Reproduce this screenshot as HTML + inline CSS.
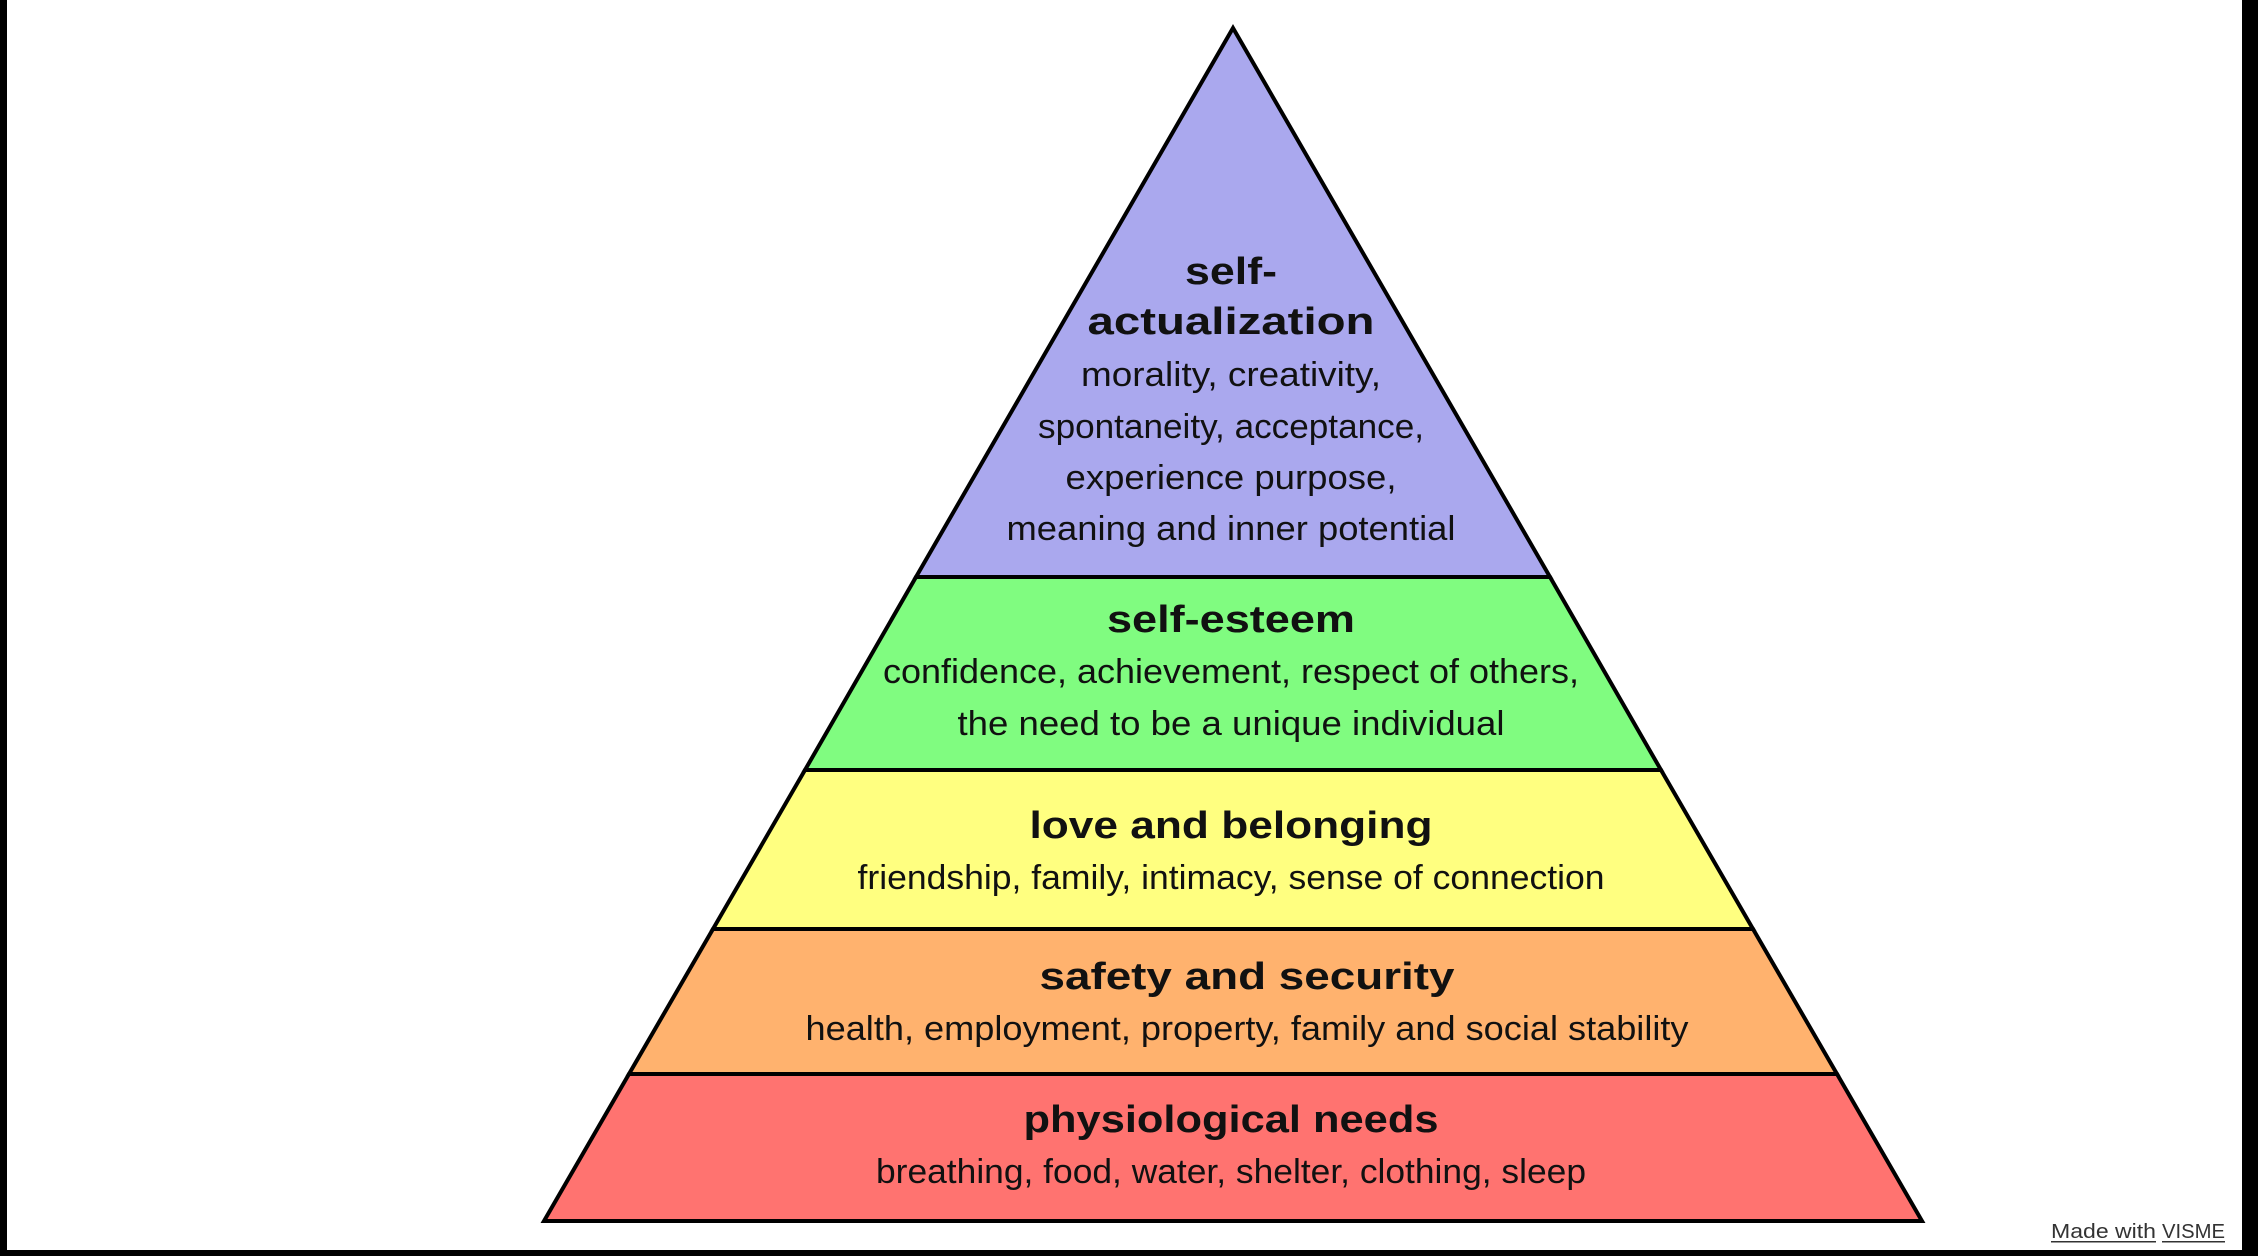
<!DOCTYPE html>
<html><head><meta charset="utf-8"><style>
html,body{margin:0;padding:0;background:#fff;}
svg{display:block}
</style></head><body>
<svg width="2258" height="1256" viewBox="0 0 2258 1256" xmlns="http://www.w3.org/2000/svg">
<rect x="0" y="0" width="2258" height="1256" fill="#fff"/>
<rect x="0" y="0" width="7" height="1256" fill="#000"/>
<rect x="2242" y="0" width="16" height="1256" fill="#000"/>
<rect x="0" y="1250" width="2258" height="6" fill="#000"/>
<g stroke="#000" stroke-width="4" stroke-linejoin="miter">
<polygon points="1233,28 1550,577 916,577" fill="#aaa8ee"/>
<polygon points="916,577 1550,577 1661,770 805,770" fill="#80fc80"/>
<polygon points="805,770 1661,770 1753,929 713,929" fill="#ffff80"/>
<polygon points="713,929 1753,929 1837,1074 629,1074" fill="#ffb26e"/>
<polygon points="629,1074 1837,1074 1922,1221 544,1221" fill="#ff7370"/>
</g>
<g font-family="Liberation Sans, sans-serif" fill="#111" text-anchor="middle" lengthAdjust="spacingAndGlyphs">
<g font-weight="bold" font-size="38">
<text x="1231" y="284" textLength="92" lengthAdjust="spacingAndGlyphs">self-</text>
<text x="1231" y="334" textLength="287" lengthAdjust="spacingAndGlyphs">actualization</text>
<text x="1231" y="632" textLength="248" lengthAdjust="spacingAndGlyphs">self-esteem</text>
<text x="1231" y="838" textLength="403" lengthAdjust="spacingAndGlyphs">love and belonging</text>
<text x="1247" y="989" textLength="415" lengthAdjust="spacingAndGlyphs">safety and security</text>
<text x="1231" y="1132" textLength="415" lengthAdjust="spacingAndGlyphs">physiological needs</text>
</g>
<g font-size="34">
<text x="1231" y="386" textLength="300" lengthAdjust="spacingAndGlyphs">morality, creativity,</text>
<text x="1231" y="438" textLength="386" lengthAdjust="spacingAndGlyphs">spontaneity, acceptance,</text>
<text x="1231" y="489" textLength="331" lengthAdjust="spacingAndGlyphs">experience purpose,</text>
<text x="1231" y="540" textLength="449" lengthAdjust="spacingAndGlyphs">meaning and inner potential</text>
<text x="1231" y="683" textLength="696" lengthAdjust="spacingAndGlyphs">confidence, achievement, respect of others,</text>
<text x="1231" y="735" textLength="547" lengthAdjust="spacingAndGlyphs">the need to be a unique individual</text>
<text x="1231" y="889" textLength="747" lengthAdjust="spacingAndGlyphs">friendship, family, intimacy, sense of connection</text>
<text x="1247" y="1040" textLength="883" lengthAdjust="spacingAndGlyphs">health, employment, property, family and social stability</text>
<text x="1231" y="1183" textLength="710" lengthAdjust="spacingAndGlyphs">breathing, food, water, shelter, clothing, sleep</text>
</g>
</g>
<g font-family="Liberation Sans, sans-serif" font-size="20" fill="#333">
<text x="2051" y="1238" textLength="105" lengthAdjust="spacingAndGlyphs">Made with</text>
<text x="2162" y="1238" textLength="63" lengthAdjust="spacingAndGlyphs">VISME</text>
</g>
<rect x="2051" y="1241" width="105" height="1.5" fill="#333"/>
<rect x="2162" y="1241" width="63" height="1.5" fill="#333"/>
</svg>
</body></html>
